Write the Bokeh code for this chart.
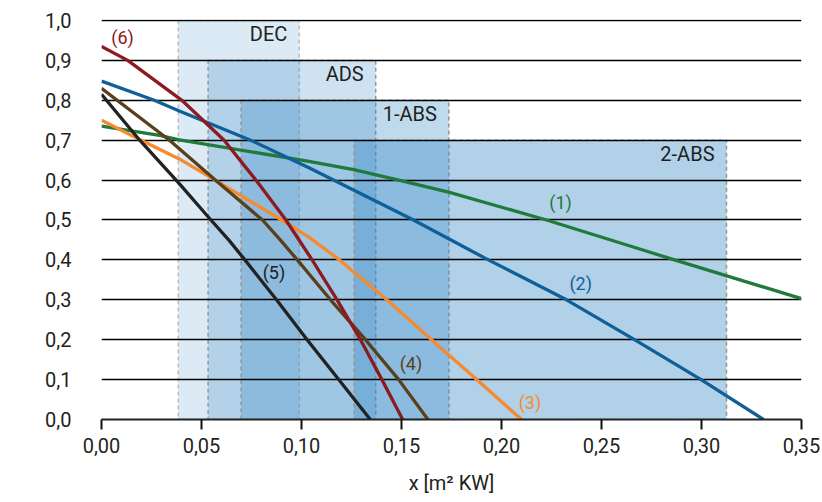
from bokeh.plotting import figure
from bokeh.models import Range1d, FixedTicker, Label
from bokeh.core.properties import value
from bokeh.embed import file_html
from bokeh.resources import INLINE

# ---------------- data ----------------
x_ticks = [0.00, 0.05, 0.10, 0.15, 0.20, 0.25, 0.30, 0.35]
x_tick_labels = ["0,00", "0,05", "0,10", "0,15", "0,20", "0,25", "0,30", "0,35"]
y_ticks = [0.0, 0.1, 0.2, 0.3, 0.4, 0.5, 0.6, 0.7, 0.8, 0.9, 1.0]
y_tick_labels = ["0,0", "0,1", "0,2", "0,3", "0,4", "0,5", "0,6", "0,7", "0,8", "0,9", "1,0"]

zone_names = ["DEC", "ADS", "1-ABS", "2-ABS"]
zone_left = [0.0384, 0.0533, 0.0698, 0.1263]
zone_right = [0.0989, 0.1371, 0.1737, 0.3125]
zone_top = [1.0, 0.9, 0.8, 0.7]

c1_x = [0.0, 0.029, 0.0389, 0.1037, 0.1261, 0.1486, 0.1735, 0.2225, 0.2715, 0.2865, 0.35]
c1_y = [0.735, 0.712, 0.701, 0.647, 0.626, 0.600, 0.570, 0.50, 0.4236, 0.40, 0.303]
c2_x = [0.0, 0.0264, 0.0389, 0.0746, 0.1037, 0.116, 0.156, 0.1934, 0.2325, 0.2665, 0.2998, 0.331]
c2_y = [0.848, 0.80, 0.773, 0.70, 0.631, 0.60, 0.50, 0.40, 0.30, 0.20, 0.10, 0.0]
c3_x = [0.0, 0.0198, 0.0389, 0.0568, 0.0901, 0.1037, 0.119, 0.1427, 0.165, 0.1876, 0.210]
c3_y = [0.75, 0.70, 0.653, 0.60, 0.50, 0.457, 0.40, 0.30, 0.20, 0.10, 0.0]
c4_x = [0.0, 0.034, 0.0569, 0.0805, 0.0896, 0.0979, 0.1145, 0.132, 0.1486, 0.1632]
c4_y = [0.83, 0.70, 0.60, 0.50, 0.449, 0.40, 0.30, 0.20, 0.10, 0.0]
c5_x = [0.0, 0.0191, 0.0389, 0.0547, 0.0638, 0.0717, 0.0875, 0.1028, 0.1186, 0.1344]
c5_y = [0.815, 0.70, 0.591, 0.50, 0.449, 0.40, 0.30, 0.20, 0.10, 0.0]
c6_x = [0.0, 0.0131, 0.0402, 0.0613, 0.0772, 0.0922, 0.1053, 0.1178, 0.1295, 0.1402, 0.1506]
c6_y = [0.935, 0.90, 0.80, 0.70, 0.60, 0.50, 0.40, 0.30, 0.20, 0.10, 0.0]

curve_names = ["(1)", "(2)", "(3)", "(4)", "(5)", "(6)"]
curve_label_x = [0.2295, 0.2396, 0.2142, 0.1547, 0.0862, 0.0105]
curve_label_y = [0.545, 0.340, 0.043, 0.141, 0.369, 0.957]

# ---------------- style ----------------
curve_colors = ["#1f7a3c", "#0f5f98", "#f68a2e", "#5a3f1c", "#222222", "#8c1a20"]
zone_fill = "#3c8cc8"
zone_alpha = [0.185, 0.25, 0.32, 0.40]
zone_line = ["#bdbdbd", "#969696", "#969696", "#969696"]
FONT = "Roboto"
TXT = "#231f20"

p = figure(width=820, height=500, output_backend="svg", toolbar_location=None,
           x_range=Range1d(0, 0.35), y_range=Range1d(0, 1.0025),
           min_border_left=101, min_border_right=19, min_border_top=19,
           min_border_bottom=81)
p.outline_line_color = None
p.background_fill_color = "white"

# zones
for i in range(len(zone_names)):
    p.quad(left=[zone_left[i]], right=[zone_right[i]], bottom=[0], top=[zone_top[i]],
           fill_color=zone_fill, fill_alpha=zone_alpha[i],
           line_color=zone_line[i], line_width=1.5, line_dash="4 3", level="image")

# curves
curves = [(c1_x, c1_y), (c2_x, c2_y), (c3_x, c3_y), (c4_x, c4_y), (c5_x, c5_y), (c6_x, c6_y)]
for (cx, cy), col in zip(curves, curve_colors):
    p.line(cx, cy, line_color=col, line_width=3.3, line_join="round")

# zone labels
p.text(x=zone_right, y=zone_top, text=zone_names, text_align="right",
       text_baseline="middle", x_offset=-12, y_offset=14,
       text_font=value(FONT), text_font_size="20px", text_color=TXT)

# curve labels
p.text(x=curve_label_x, y=curve_label_y, text=curve_names, text_align="center",
       text_baseline="middle", text_font=value(FONT), text_font_size="18px",
       text_color=curve_colors)

# axes
p.xaxis.ticker = FixedTicker(ticks=x_ticks)
p.xaxis.major_label_overrides = dict(zip(x_ticks, x_tick_labels))
p.xaxis.axis_line_color = "#222222"
p.xaxis.axis_line_width = 2
p.xaxis.major_tick_line_color = "#111111"
p.xaxis.major_tick_line_width = 2
p.xaxis.major_tick_out = 10
p.xaxis.major_tick_in = 0
p.xaxis.minor_tick_line_color = None
p.xaxis.major_label_standoff = 8
p.xaxis.major_label_text_font = FONT
p.xaxis.major_label_text_font_size = "20px"
p.xaxis.major_label_text_color = TXT
p.xaxis.axis_label = "x [m\u00b2 KW]"
p.xaxis.axis_label_text_font = FONT
p.xaxis.axis_label_text_font_size = "20px"
p.xaxis.axis_label_text_font_style = "normal"
p.xaxis.axis_label_text_color = TXT
p.xaxis.axis_label_standoff = 15

p.yaxis.ticker = FixedTicker(ticks=y_ticks)
p.yaxis.major_label_overrides = dict(zip(y_ticks, y_tick_labels))
p.yaxis.axis_line_color = None
p.yaxis.major_tick_line_color = None
p.yaxis.minor_tick_line_color = None
p.yaxis.major_label_standoff = 24
p.yaxis.major_label_text_font = FONT
p.yaxis.major_label_text_font_size = "20px"
p.yaxis.major_label_text_color = TXT

p.xgrid.grid_line_color = None
p.ygrid.ticker = FixedTicker(ticks=y_ticks)
p.ygrid.grid_line_color = "#000000"
p.ygrid.grid_line_width = 1.6

p.add_layout(Label(x=-0.0415, y=0.436, text="efficiency", angle=1.5708,
                   text_align="center", text_baseline="middle",
                   text_font=FONT, text_font_size="20px", text_color=TXT))

open("out.html", "w").write(file_html(p, INLINE))
